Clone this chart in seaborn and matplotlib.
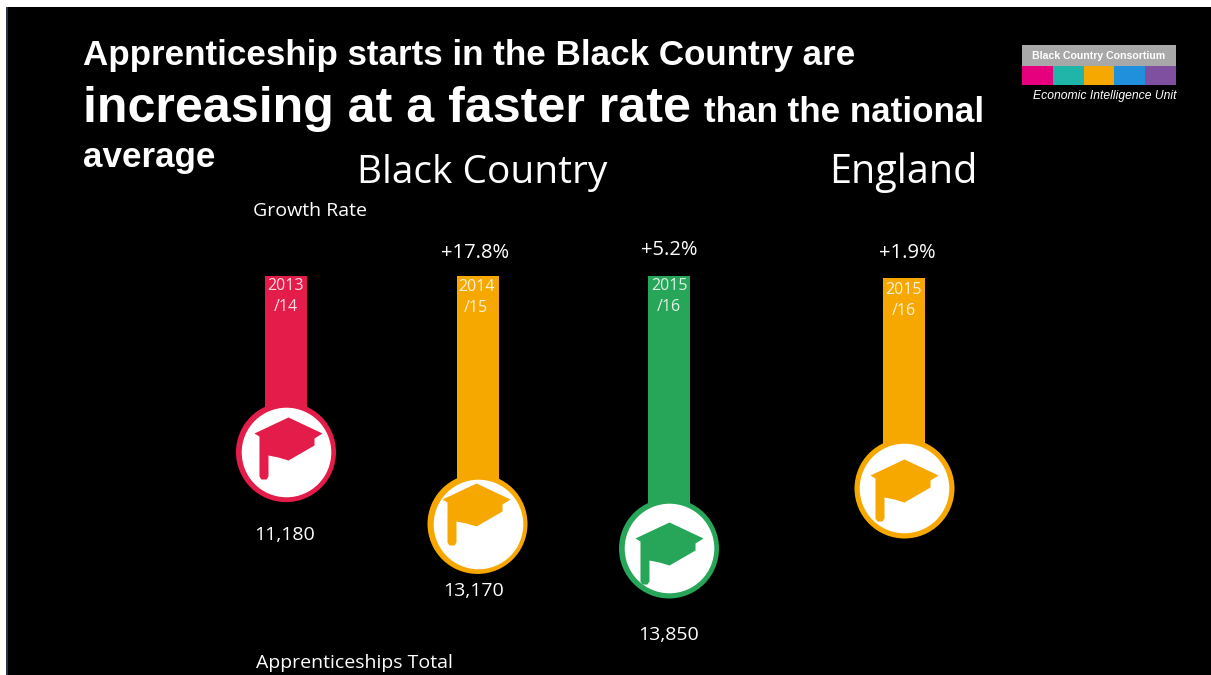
import numpy as np
import pandas as pd
import matplotlib
matplotlib.use("Agg")
import matplotlib.pyplot as plt
from matplotlib.patches import Rectangle
from matplotlib.path import Path
from matplotlib.transforms import ScaledTranslation
import seaborn as sns

# Apprenticeship starts
region_periods = ["2013/14", "2014/15", "2015/16"]
region_totals = [11180, 13170, 13850]
region_growth = [None, "+17.8%", "+5.2%"]
region_colors = ["#E31C4A", "#F7A800", "#27A65A"]

england_periods = ["2015/16"]
england_totals = [12100]   # no printed total for England
england_growth = ["+1.9%"]
england_colors = ["#F7A800"]

W, H = 1211, 675
UNITS_PER_PX = 1 / 0.03608
BODY = "Open Sans"
HEAD = "Liberation Sans"

sns.set_theme(style="white")
fig = plt.figure(figsize=(W / 100, H / 100), dpi=100, facecolor="white")


def fx(x):
    return x / W


def fy(y):
    return 1 - y / H


def label(x, y, s, size, family=BODY, weight="normal", ha="center", va="center",
          color="white", **kw):
    return fig.text(fx(x), fy(y), s, fontsize=size, family=family, weight=weight,
                    ha=ha, va=va, color=color, zorder=10, **kw)


def box(x0, y0, x1, y1, color, zorder=-2):
    fig.patches.append(Rectangle((fx(x0), fy(y1)), (x1 - x0) / W, (y1 - y0) / H,
                                 transform=fig.transFigure, facecolor=color,
                                 edgecolor="none", zorder=zorder))


# Slide background with its thin left border
box(6, 7, W, H, "black")
box(6, 7, 8, H, "#2A3050", zorder=-1)

# Graduation-cap glyph
cap = Path(
    [(0, 30), (34, 14), (26, 9), (26, 2), (0, -13), (-10, -10), (-20, -8), (-20, -29),
     (-22, -32), (-27, -32), (-29, -29), (-29, 11), (-34, 14), (0, 30)],
    closed=True,
)


def thermometers(rect, periods, totals, colors, ylim, cap_shift):
    left, top, right, bottom = rect
    ax = fig.add_axes([fx(left), fy(bottom), (right - left) / W, (bottom - top) / H])
    ax.patch.set_alpha(0)
    df = pd.DataFrame({"period": periods, "total": totals, "slot": np.arange(len(periods))})
    palette = dict(zip(periods, colors))
    sns.barplot(data=df, x="period", y="total", hue="period", palette=palette,
                width=42 / 191.5, saturation=1, legend=False, dodge=False,
                linewidth=0, ax=ax)
    sns.scatterplot(data=df, x="slot", y="total", hue="period", palette=palette,
                    s=72 ** 2, linewidth=0, legend=False, ax=ax, zorder=3)
    ax.scatter(df["slot"], df["total"], s=64.5 ** 2, color="white", linewidth=0, zorder=4)
    # Each cap sits a little off the centre of its ring
    for (_, row), color, (dx, dy) in zip(df.iterrows(), colors, cap_shift):
        nudge = ScaledTranslation(dx / 100, dy / 100, fig.dpi_scale_trans)
        ax.scatter([row["slot"]], [row["total"]], s=49 ** 2, marker=cap, color=color,
                   linewidth=0, zorder=5, transform=ax.transData + nudge)
    ax.set_xlim(-0.5, len(periods) - 0.5)
    # Columns hang from the top edge, so larger totals reach further down
    ax.set_ylim(ylim[1], ylim[0])
    ax.axis("off")
    return ax


thermometers((190.25, 275.5, 764.75, 675), region_periods, region_totals, region_colors,
             (6284, 6284 + 399.5 * UNITS_PER_PX), [(2, 5), (-2, 11), (0, -4)])
thermometers((808, 278, 999.5, 675), england_periods, england_totals, england_colors,
             (6284, 6284 + 397 * UNITS_PER_PX), [(0, -1)])

# Headline
label(83, 65, "Apprenticeship starts in the Black Country are", 25.2, HEAD, "bold", "left", "baseline")
label(83, 122, "increasing at a faster rate", 36.1, HEAD, "bold", "left", "baseline")
label(704, 122, "than the national", 25.2, HEAD, "bold", "left", "baseline")
label(83, 167, "average", 25.2, HEAD, "bold", "left", "baseline")

# Panel headings and axis captions
label(482, 173, "Black Country", 28)
label(903, 173, "England", 28.5)
label(310, 211, "Growth Rate", 14)
label(354, 663, "Apprenticeships Total", 14)

# Column annotations
for x, y, s in zip([475, 669], [253, 250], region_growth[1:]):
    label(x, y, s, 14.5)
label(907, 253, england_growth[0], 14.5)

for x, y, v in zip([285, 474, 669], [535, 591, 635], region_totals):
    label(x, y, f"{v:,}", 14)

for (x, y), p in zip([(286, 286), (476, 287), (669, 286), (904, 290)],
                     region_periods + england_periods):
    first, second = p.split("/")
    label(x, y, first, 11.5, alpha=0.85)
    label(x, y + 21, "/" + second, 11.5, alpha=0.85)

# Consortium badge
box(1022, 45, 1176, 66, "#A8A8A8", zorder=2)
for i, c in enumerate(["#E6007E", "#1FB5A8", "#F7A800", "#2090DC", "#8050A0"]):
    box(1022 + i * 30.8, 66, 1022 + (i + 1) * 30.8, 84.5, c, zorder=2)
label(1099, 56, "Black Country Consortium", 7.6, HEAD, "bold")
label(1104.5, 96.5, "Economic Intelligence Unit", 8.7, HEAD, style="italic")

fig.savefig("out.png", dpi=100, facecolor="white")
